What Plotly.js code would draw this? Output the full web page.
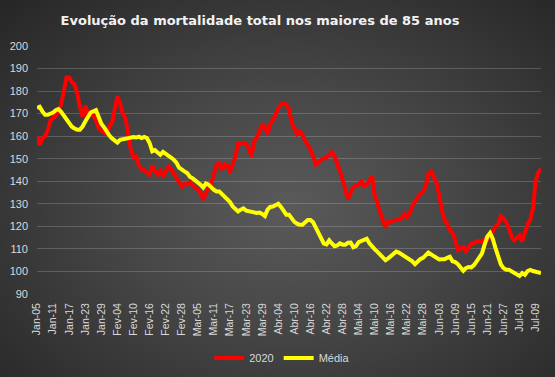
<!DOCTYPE html>
<html>
<head>
<meta charset="utf-8">
<script src="https://cdn.plot.ly/plotly-3.0.1.min.js"></script>
<style>
html, body { margin:0; padding:0; width:555px; height:377px; overflow:hidden; }
body { background: radial-gradient(ellipse at 52% 55%, #5a5a5a 0%, #474747 40%, #2e2e2e 85%, #262626 100%); }
#chart { width:555px; height:377px; }
</style>
</head>
<body>
<div id="chart"></div>
<script>
const startDate = [2020, 0, 5]; // Jan-05
const serie2020 = [
160,156,159,160,162.5,167,168,169,171,174,180,186,186,184,183,179,173,168.5,173.5,170,
169.5,169,167,163.5,162.5,161.5,161,164.5,166,172,177.6,174.5,170,168,160,154,150.5,151,147,145.5,
145,143.7,143,147,144.4,143,144.5,142.2,144,146.5,145.5,143.6,142,139.5,137.7,139,138.6,139.5,138,137,
136.5,134.8,131.8,134.8,137.5,139,144,147.5,148,145.1,147.5,147,144,147,151,157,157,157,156.5,154.7,
151,157.7,159.5,162.5,165,164,161,165.5,167,169.5,172.5,174,174.7,174,172,166,163,161,162,160.6,
158,156,154,151,147.5,148.5,149.5,150.3,150.5,151.8,153,151,147,144.5,140.7,137,132,135,137.5,138,
138.5,140,138,138.5,140,142.2,133.3,130.5,126,122,119.5,122,122.2,122.5,123,123,123.7,125.5,124,126,
129,131.2,133,134.5,135.5,137.5,143.5,144.4,142,139.3,134,127,123,121.3,118,117.2,114,109.5,110,110.8,
109,111,112.3,112.5,113.3,113.5,113,114.5,114.2,115.3,118,120,120.7,124.5,123.5,122,119,115.5,113.8,115,
116,113.3,118,121,123,128,140,144,145.5
];
const serieMedia = [
172.5,173,171,169.5,169.5,170,170.5,171.5,172,170.8,169,167,165.3,164.2,163.4,162.9,162.9,164.3,166.5,169,
170.5,171,171.5,168.5,165.5,164,162,160.3,159,158,157.2,158.4,158.6,158.9,159.2,159.6,159.6,159.4,159.8,159.2,
159.7,159.2,157,153.3,153.8,152.8,151.8,153,152.3,151.5,150.5,149.6,148.3,146,145,144.4,143.7,142,141.4,140.5,
139.5,138.5,137.2,139,138.5,137,136.2,135.5,135.5,134.3,133.2,132.5,130.8,128.8,127.4,126.6,127.4,128,127,126.6,
126.5,126.2,125.9,126.1,125.5,124.6,127.4,128.6,128.8,129.5,130,128.6,127,125.2,125.2,123.5,122,121.2,120.7,120.7,
121.8,122.8,122.8,121.8,119.4,116.8,114.5,112.4,112,113.8,112.4,111.2,111.5,112.5,111.9,111.9,112.7,112.8,110.7,111.2,
113,113.6,114.3,114.5,112.5,110.8,109.8,108.7,107.3,105.8,105,105.8,107,108.2,108.8,108.4,107.6,106.8,106,105.5,
104.5,103.2,104.5,105.5,106,107,108.4,107.6,106.8,106,105.3,105.4,105.4,106,106.5,104.5,104.2,103.2,101.5,100.3,
101.5,102,101.8,102.8,104.5,106.3,108,112,115.5,117,114.5,110.5,106.5,103.2,101.5,100.8,100.8,100,99.5,98.5,
98,99.3,98.5,100.2,100.7,100.2,99.9,99.6,99.3
];
const tickLabels = ["Jan-05","Jan-11","Jan-17","Jan-23","Jan-29","Fev-04","Fev-10","Fev-16","Fev-22","Fev-28",
"Mar-05","Mar-11","Mar-17","Mar-23","Mar-29","Abr-04","Abr-10","Abr-16","Abr-22","Abr-28",
"Mai-04","Mai-10","Mai-16","Mai-22","Mai-28","Jun-03","Jun-09","Jun-15","Jun-21","Jun-27","Jul-03","Jul-09"];
const tickStep = 6;
const yTicks = [90,100,110,120,130,140,150,160,170,180,190,200];

function dayStr(i) {
  const d = new Date(Date.UTC(startDate[0], startDate[1], startDate[2] + i));
  return d.toISOString().slice(0,10);
}
const dates = serie2020.map((_, i) => dayStr(i));
const tickVals = tickLabels.map((_, i) => dayStr(i * tickStep));

const traces = [
  {x: dates, y: serie2020, name: '2020', type: 'scatter', mode: 'lines',
   line: {color: '#ff0000', width: 4}},
  {x: dates, y: serieMedia, name: 'Média', type: 'scatter', mode: 'lines',
   line: {color: '#ffff00', width: 4}}
];

const layout = {
  width: 555, height: 377,
  paper_bgcolor: 'rgba(0,0,0,0)', plot_bgcolor: 'rgba(0,0,0,0)',
  margin: {l: 37, r: 14, t: 46, b: 83, autoexpand: false},
  showlegend: true,
  title: {text: 'Evolução da mortalidade total nos maiores de 85 anos',
          font: {family: 'DejaVu Sans', size: 13, color: '#f2f2f2', weight: 'bold'},
          x: 260/555, xanchor: 'center', y: 1 - 20/377, yanchor: 'middle'},
  xaxis: {type: 'date', range: [dates[0], dates[dates.length-1]],
          tickvals: tickVals, ticktext: tickLabels, tickangle: -90,
          tickfont: {family: 'Liberation Sans', size: 10.5, color: '#d9d9d9'},
          showgrid: false, zeroline: false, showline: false, ticks: '',
          ticklabelstandoff: 6, fixedrange: true},
  yaxis: {range: [90, 200], tickvals: yTicks,
          tickfont: {family: 'Liberation Sans', size: 11, color: '#d9d9d9'},
          gridcolor: 'rgba(255,255,255,0.18)', gridwidth: 1,
          zeroline: false, showline: false, ticks: '', ticklabelstandoff: 8, fixedrange: true},
  legend: {orientation: 'h', x: 270/555, xanchor: 'center', y: -0.258, yanchor: 'middle',
           font: {family: 'Liberation Sans', size: 11, color: '#d9d9d9'},
           bgcolor: 'rgba(0,0,0,0)', itemwidth: 30, tracegroupgap: 0}
};

Plotly.newPlot('chart', traces, layout, {displayModeBar: false, staticPlot: true});
</script>
</body>
</html>
